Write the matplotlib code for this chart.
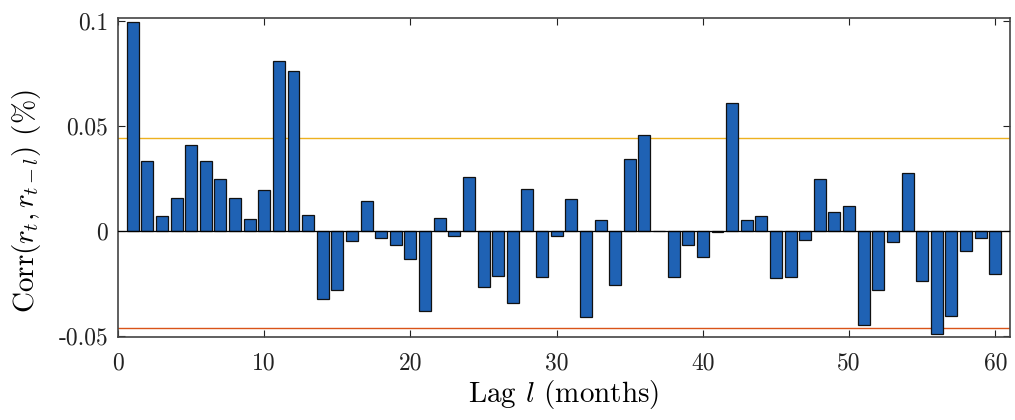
import numpy as np
import matplotlib
matplotlib.use('Agg')
import matplotlib.pyplot as plt

# autocorrelation by lag
lags = np.arange(1, 61)
corr = [0.0997, 0.0332, 0.0071, 0.0157, 0.0410, 0.0333, 0.0249, 0.0159, 0.0057, 0.0194,
        0.0810, 0.0762, 0.0076, -0.0325, -0.0281, -0.0048, 0.0141, -0.0033, -0.0068, -0.0135,
        -0.0384, 0.0060, -0.0025, 0.0257, -0.0266, -0.0213, -0.0346, 0.0198, -0.0218, -0.0025,
        0.0154, -0.0411, 0.0051, -0.0260, 0.0344, 0.0457, 0.0, -0.0218, -0.0067, -0.0126,
        -0.0005, 0.0608, 0.0052, 0.0073, -0.0225, -0.0218, -0.0043, 0.0246, 0.0092, 0.0119,
        -0.0448, -0.0281, -0.0052, 0.0278, -0.0237, -0.0492, -0.0408, -0.0094, -0.0035, -0.0206]
upper_band = 0.0441
lower_band = -0.0463
xticks = [0, 10, 20, 30, 40, 50, 60]
yticks = [-0.05, 0, 0.05, 0.1]
yticklabels = ['-0.05', '0', '0.05', '0.1']

plt.rcParams['mathtext.fontset'] = 'cm'
plt.rcParams['font.family'] = 'serif'
plt.rcParams['font.serif'] = ['cmr10', 'DejaVu Serif']
plt.rcParams['axes.unicode_minus'] = False

fig, ax = plt.subplots(figsize=(10.15, 4.2), dpi=100)
fig.subplots_adjust(left=0.1163, right=0.995, top=0.957, bottom=0.198)

ax.bar(lags, corr, width=0.82, color='#1f62b4', edgecolor='#111111', linewidth=0.9, zorder=3)
ax.axhline(0, color='black', linewidth=0.9, zorder=4)
ax.axhline(upper_band, color='#EDB120', linewidth=1.0, zorder=2)
ax.axhline(lower_band, color='#D95319', linewidth=1.0, zorder=2)

ax.set_xlim(0, 61)
ax.set_ylim(-0.0505, 0.1015)
ax.set_xticks(xticks)
ax.set_xticklabels([str(t) for t in xticks])
ax.set_yticks(yticks)
ax.set_yticklabels(yticklabels)
ax.tick_params(direction='in', top=True, right=True, length=5, width=0.8,
               labelsize=17, colors='#222222')
ax.tick_params(axis='x', pad=11)
ax.tick_params(axis='y', pad=7)
for s in ax.spines.values():
    s.set_color('#444444')
    s.set_linewidth(1.2)

ax.set_xlabel(r'Lag $l$ (months)', fontsize=21)
ax.set_ylabel(r'$\mathrm{Corr}(r_t,r_{t-l})$ (%)', fontsize=21)
ax.xaxis.set_label_coords(0.4994, -0.128)
ax.yaxis.set_label_coords(-0.084, 0.425)

plt.savefig('out.png', dpi=100)
